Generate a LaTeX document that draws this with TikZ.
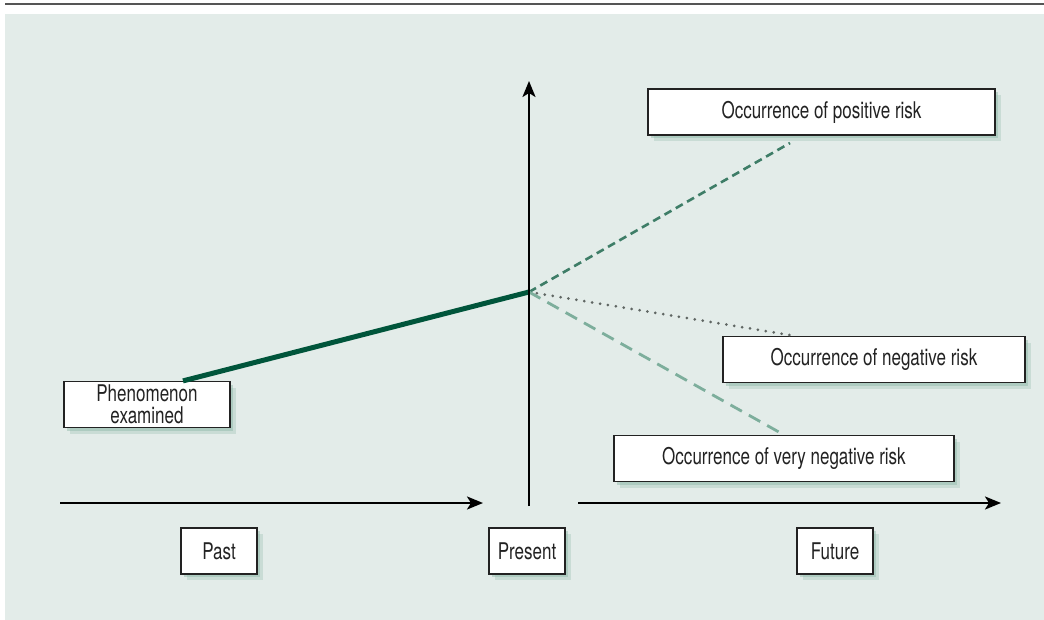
\documentclass[tikz,border=0pt]{standalone}
\usepackage{fontspec}
\setmainfont{TeX Gyre Heros}[FakeStretch=0.74]
\usetikzlibrary{arrows.meta,shadows,calc}
\definecolor{panel}{HTML}{E3ECE9}
\definecolor{rule}{HTML}{555555}
\definecolor{trend}{HTML}{00553B}
\definecolor{posline}{HTML}{3E7D67}
\definecolor{vnegline}{HTML}{7DAE9C}
\definecolor{negline}{HTML}{5F6663}
\definecolor{shade}{HTML}{8DB8A8}
\definecolor{ink}{HTML}{222222}

\begin{document}
\begin{tikzpicture}[x=1pt,y=-1pt,node distance=308pt,
  box/.style={draw=ink,line width=1.2pt,fill=white,text=ink,inner sep=0pt,
    minimum height=46pt,font=\fontsize{23}{22.5}\selectfont,
    drop shadow={shadow xshift=6pt,shadow yshift=-6pt,fill=shade,opacity=.3},
    drop shadow={shadow xshift=3pt,shadow yshift=-3pt,fill=shade,opacity=.45}},
  axis/.style={line width=2.4pt,-{Stealth[length=16pt,width=13pt,inset=4pt]}}]
  \useasboundingbox (0,0) rectangle (1044,620);
  \fill[panel] (5,14) rectangle (1044,620);
  \draw[rule,line width=2.2pt] (5,4) -- (1044,4);

  \node[box,minimum width=76pt] (past) at (219,551) {Past};
  \node[box,minimum width=76pt,right of=past] (present) {Present};
  \node[box,minimum width=76pt,right of=present] (future) {Future};
  \node[box,minimum width=347pt] (pos) at (821.5,112) {Occurrence of positive risk};
  \node[box,minimum width=302pt] (neg) at (874,359.5) {Occurrence of negative risk};
  \node[box,minimum width=340pt] (vneg) at (784,458.5) {Occurrence of very negative risk};
  \node[box,minimum width=166pt,align=center] (phen) at (147,404.5) {Phenomenon\\examined};

  \coordinate (0) at (529,292);
  \coordinate (top) at (529,81);
  \coordinate (foot) at (529,506);
  \coordinate (p1) at (60,503);
  \coordinate (p2) at (483,503);
  \coordinate (f1) at (578,503);
  \coordinate (f2) at (1001,503);
  \coordinate (e1) at (790,143);

  \draw[trend,line width=5pt] ([xshift=36pt]phen.north) -- (0);
  \draw[posline,line width=2.6pt,dash pattern=on 8pt off 5pt] (0) -- (e1);
  \draw[negline,line width=3pt,line cap=round,dash pattern=on 0pt off 8pt]
    (0) -- ([xshift=-79pt]neg.north);
  \draw[vnegline,line width=2.8pt,dash pattern=on 13pt off 8pt] (0) -- (vneg.north);

  \draw[axis] (foot) -- (top);
  \draw[axis] (p1) -- (p2);
  \draw[axis] (f1) -- (f2);
\end{tikzpicture}
\end{document}
